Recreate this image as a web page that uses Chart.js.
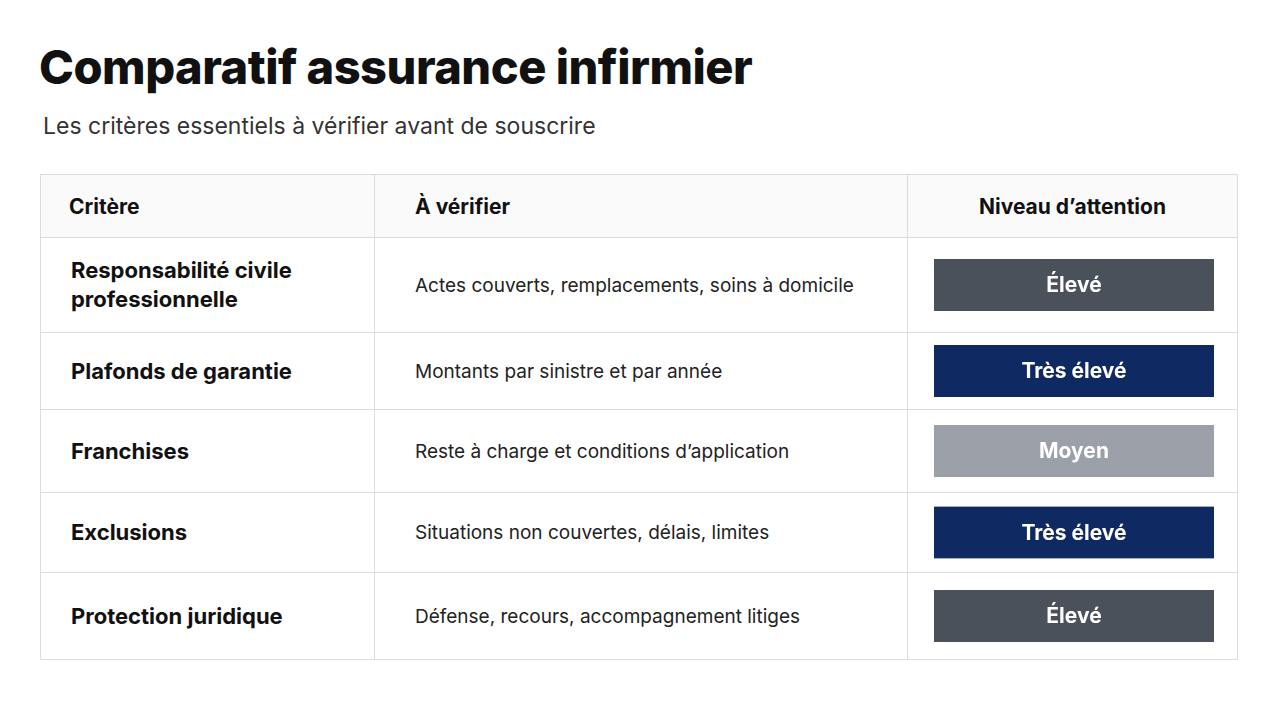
<!DOCTYPE html>
<html><head><meta charset="utf-8">
<script src="https://cdn.jsdelivr.net/npm/chart.js@4"></script>
<style>
body{margin:0;width:1280px;height:720px;background:#fff;font-family:Inter,"Noto Sans",sans-serif;color:#111;overflow:hidden}
h1{position:absolute;left:39px;top:38px;margin:0;font-size:47px;font-weight:800;letter-spacing:-0.5px}
.sub{position:absolute;left:43px;top:112px;font-size:23px;color:#333}
table{position:absolute;left:40px;top:174px;border-collapse:collapse;width:1198px}
td,th{border:1px solid #dcdcdc;padding:0}
th{height:62px;font-size:21px;font-weight:700;text-align:left;background:#fafafa}
td.c1{font-size:22px;font-weight:700;padding-left:30px;line-height:29px}
td.c2{font-size:19px;padding-left:40px;color:#222}
td.c3{width:329px}
canvas{display:block}
</style></head><body>
<h1>Comparatif assurance infirmier</h1>
<div class="sub">Les critères essentiels à vérifier avant de souscrire</div>
<table id="t">
<tr><th style="width:305px;padding-left:28px">Critère</th><th style="padding-left:40px">À vérifier</th><th style="text-align:center">Niveau d’attention</th></tr>
</table>
<script>
const criteria=["Responsabilité civile<br>professionnelle","Plafonds de garantie","Franchises","Exclusions","Protection juridique"];
const checks=["Actes couverts, remplacements, soins à domicile","Montants par sinistre et par année","Reste à charge et conditions d’application","Situations non couvertes, délais, limites","Défense, recours, accompagnement litiges"];
const levels=["Élevé","Très élevé","Moyen","Très élevé","Élevé"];
const levelColors={"Élevé":"#4a515b","Très élevé":"#0f2a63","Moyen":"#9ca1a9"};
const rowHeights=[95,77,83,80,87];
const t=document.getElementById('t');
const labelPlugin={id:'lbl',afterDatasetsDraw(c){const m=c.getDatasetMeta(0).data[0];const x=(c.chartArea.left+c.chartArea.right)/2;const ctx=c.ctx;ctx.save();ctx.fillStyle='#fff';ctx.font='700 21px Inter, sans-serif';ctx.textAlign='center';ctx.textBaseline='middle';ctx.fillText(c.data.labels[0],x,m.y+1);ctx.restore();}};
criteria.forEach((cr,i)=>{
 const tr=document.createElement('tr');
 tr.innerHTML=`<td class="c1" style="height:${rowHeights[i]-1}px">${cr}</td><td class="c2">${checks[i]}</td><td class="c3"><canvas width="329" height="${rowHeights[i]-1}"></canvas></td>`;
 t.appendChild(tr);
 const cv=tr.querySelector('canvas');
 const pad=(rowHeights[i]-1-52)/2;
 new Chart(cv,{type:'bar',data:{labels:[levels[i]],datasets:[{data:[1],backgroundColor:levelColors[levels[i]],barPercentage:1,categoryPercentage:1}]},
 options:{indexAxis:'y',responsive:false,animation:false,layout:{padding:{left:26,right:23,top:pad,bottom:pad}},
 scales:{x:{display:false,min:0,max:1},y:{display:false}},plugins:{legend:{display:false},tooltip:{enabled:false}}},plugins:[labelPlugin]});
});
</script>
</body></html>
